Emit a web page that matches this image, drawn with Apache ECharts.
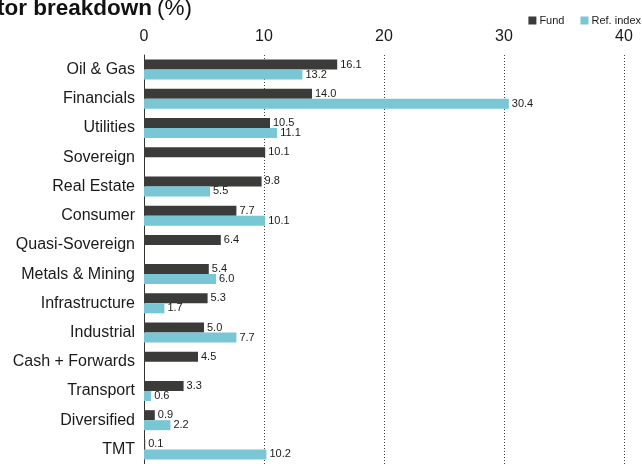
<!DOCTYPE html>
<html>
<head>
<meta charset="utf-8">
<script src="https://cdn.jsdelivr.net/npm/echarts@6/dist/echarts.min.js"></script>
<style>
html,body{margin:0;padding:0;background:#fff;}
#c{width:642px;height:464px;}
</style>
</head>
<body>
<div id="c"></div>
<script>
var categories = ["Oil & Gas","Financials","Utilities","Sovereign","Real Estate","Consumer","Quasi-Sovereign","Metals & Mining","Infrastructure","Industrial","Cash + Forwards","Transport","Diversified","TMT"];
var fundValues = [16.1,14.0,10.5,10.1,9.8,7.7,6.4,5.4,5.3,5.0,4.5,3.3,0.9,0.1];
var refValues = [13.2,30.4,11.1,null,5.5,10.1,null,6.0,1.7,7.7,null,0.6,2.2,10.2];
var xTicks = [0,10,20,30,40];

var FONT = "Liberation Sans, Arial, sans-serif";
var chart = echarts.init(document.getElementById('c'));
var labelCfg = {
  show: true, position: 'right', distance: 3,
  fontSize: 11, color: '#1a1a1a', fontFamily: FONT,
  formatter: function(p){ return p.value == null ? '' : Number(p.value).toFixed(1); }
};
chart.setOption({
  animation: false,
  title: {
    left: -48, top: -8,
    text: '{b|Sector breakdown} {n|(%)}',
    textStyle: {
      rich: {
        b: {fontSize: 22.5, fontWeight: 'bold', color: '#111', fontFamily: FONT},
        n: {fontSize: 22.5, fontWeight: 'normal', color: '#111', fontFamily: FONT}
      }
    }
  },
  legend: {
    right: -4, top: 10,
    itemWidth: 8, itemHeight: 8, itemGap: 16,
    icon: 'rect',
    textStyle: {fontSize: 11, color: '#1a1a1a', fontFamily: FONT, padding: [0,0,0,-2]},
    data: ['Fund','Ref. index']
  },
  grid: {left: 144, right: 18, top: 55, height: 412, containLabel: false},
  xAxis: {
    type: 'value', position: 'top',
    min: xTicks[0], max: xTicks[xTicks.length-1], interval: 10,
    axisLine: {show: false}, axisTick: {show: false},
    axisLabel: {fontSize: 16, color: '#1a1a1a', fontFamily: FONT, margin: 10},
    splitLine: {show: true, lineStyle: {type: [1,2], color: '#444', width: 1}}
  },
  yAxis: {
    type: 'category', inverse: true, data: categories,
    axisLine: {show: true, lineStyle: {color: '#333', width: 1}},
    axisTick: {show: false},
    axisLabel: {fontSize: 16, color: '#1a1a1a', fontFamily: FONT, margin: 9}
  },
  series: [
    {name: 'Fund', type: 'bar', data: fundValues, barWidth: 10, barGap: '0%',
     itemStyle: {color: '#3b3b39'}, label: labelCfg},
    {name: 'Ref. index', type: 'bar', data: refValues, barWidth: 10, barGap: '0%',
     itemStyle: {color: '#79c6d5'}, label: labelCfg}
  ]
});
</script>
</body>
</html>
